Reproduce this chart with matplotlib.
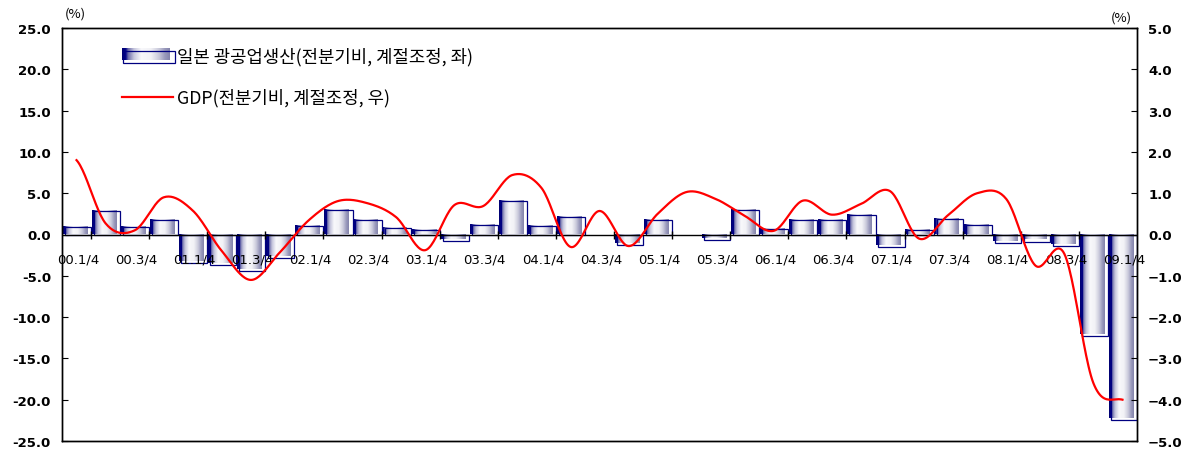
import numpy as np
import matplotlib.pyplot as plt
from matplotlib.colors import LinearSegmentedColormap
from matplotlib.patches import Rectangle

plt.rcParams['font.family'] = ['Noto Sans CJK KR', 'DejaVu Sans']

# --- Data (quarter-on-quarter, seasonally adjusted, %) ---
quarters = [f"{y:02d}.{q}/4" for y in range(0, 10) for q in range(1, 5)][:37]

ip = [0.9, 2.8, 0.9, 1.75, -3.2, -3.4, -4.2, -2.6,
      1.0, 3.0, 1.8, 0.75, 0.5, -0.5, 1.2, 4.0,
      1.0, 2.15, 0.0, -1.0, 1.75, 0.0, -0.45, 3.0,
      0.7, 1.75, 1.75, 2.4, -1.25, 0.55, 1.9, 1.2,
      -0.75, -0.6, -1.2, -12.0, -22.2]

gdp = [1.8, 0.27, 0.1, 0.9, 0.58, -0.4, -1.1, -0.43,
       0.35, 0.81, 0.76, 0.42, -0.38, 0.71, 0.69, 1.44,
       1.13, -0.3, 0.57, -0.28, 0.5, 1.03, 0.86, 0.45,
       0.09, 0.82, 0.48, 0.74, 1.05, -0.1, 0.47, 1.0,
       0.86, -0.75, -0.47, -3.6, -4.0]

ip_label = '일본 광공업생산(전분기비, 계절조정, 좌)'
gdp_label = 'GDP(전분기비, 계절조정, 우)'

left_ticks = np.arange(-25, 25.1, 5)
right_ticks = np.arange(-5, 5.1, 1)


def smooth(y, n=24):
    # Catmull-Rom spline through the points (like Excel's smoothed line)
    y = np.asarray(y, float)
    p = np.concatenate([[y[0]], y, [y[-1]]])
    xs, ys = [], []
    t = np.linspace(0, 1, n, endpoint=False)
    for i in range(len(y) - 1):
        p0, p1, p2, p3 = p[i], p[i + 1], p[i + 2], p[i + 3]
        m1 = (p2 - p0) / 2
        m2 = (p3 - p1) / 2
        h00 = 2 * t**3 - 3 * t**2 + 1
        h10 = t**3 - 2 * t**2 + t
        h01 = -2 * t**3 + 3 * t**2
        h11 = t**3 - t**2
        xs.append(i + t)
        ys.append(h00 * p1 + h10 * m1 + h01 * p2 + h11 * m2)
    xs.append([len(y) - 1])
    ys.append([y[-1]])
    return np.concatenate(xs), np.concatenate(ys)


# --- Gradient for the "cylinder" bars ---
cmap = LinearSegmentedColormap.from_list('bar', [
    (0.00, '#000070'), (0.07, '#000088'), (0.12, '#6a6aa8'),
    (0.24, '#c4c4dc'), (0.40, '#f8f8fb'), (0.60, '#f2f2f6'),
    (0.78, '#c8c8da'), (0.90, '#9a9abc'), (1.00, '#8484ac')])
grad = np.linspace(0, 1, 64)[np.newaxis, :]
navy = '#000080'

fig = plt.figure(figsize=(11.93, 4.52), dpi=100)
ax = fig.add_axes([62 / 1193, 10 / 452, 1075 / 1193, 413 / 452])

x = np.arange(len(quarters))
for i, v in zip(x, ip):
    if v == 0:
        continue
    ax.imshow(grad, cmap=cmap, extent=[i - 0.47, i + 0.38, 0, v],
              aspect='auto', interpolation='bilinear', zorder=2)
    off = -0.25 if v < 0 else 0
    ax.add_patch(Rectangle((i - 0.40, 0), 0.9, v + off, fill=False,
                           edgecolor=navy, lw=0.9, zorder=3))

ax.axhline(0, color='black', lw=1.0, zorder=4)
ax.plot(x[1::2] - 0.5, np.zeros(len(x[1::2])), ls='none', marker='|',
        ms=6, mew=1.0, color='black', zorder=4)

for i in x[::2]:
    ax.annotate(quarters[i], (i, 0), xytext=(1, -13), textcoords='offset points',
                ha='center', va='top', fontsize=9.5, family='DejaVu Sans', zorder=5)

ax.set_xlim(-0.5, len(quarters) - 0.5)
ax.set_ylim(-25, 25)
ax.set_xticks([])
ax.set_yticks(left_ticks)
ax.set_yticklabels([f"{t:.1f}" for t in left_ticks], fontsize=9.5,
                   family='DejaVu Sans', fontweight='bold')
ax.tick_params(axis='y', direction='in', length=4, pad=8)

# --- GDP line on right axis ---
ax2 = ax.twinx()
sx, sy = smooth(gdp)
ax2.plot(sx, sy, color='#ff0000', lw=1.6, zorder=5)
ax2.set_ylim(-5, 5)
ax2.set_yticks(right_ticks)
ax2.set_yticklabels([f"{t:.1f}".replace('-', '\u2212') for t in right_ticks],
                    fontsize=9.5, family='DejaVu Sans', fontweight='bold')
ax2.tick_params(axis='y', direction='in', length=4, pad=8)

for a in (ax, ax2):
    for s in a.spines.values():
        s.set_linewidth(1.0)

# --- Legend (drawn by hand) ---
ax.imshow(grad, cmap=cmap, extent=[0.056, 0.100, 0.922, 0.949],
          transform=ax.transAxes, aspect='auto', interpolation='bilinear', zorder=6)
ax.add_patch(Rectangle((0.057, 0.915), 0.0485, 0.029, fill=False, edgecolor=navy,
                       lw=0.9, transform=ax.transAxes, zorder=6))
ax.text(0.107, 0.932, ip_label, transform=ax.transAxes, fontsize=12.8,
        va='center', ha='left')
ax.plot([0.056, 0.103], [0.832, 0.832], color='#ff0000', lw=1.6,
        transform=ax.transAxes)
ax.text(0.107, 0.832, gdp_label, transform=ax.transAxes, fontsize=12.8,
        va='center', ha='left')

fig.text(75 / 1193, 1 - 14 / 452, '(%)', fontsize=9.5, ha='center', va='center')
fig.text(1121 / 1193, 1 - 18 / 452, '(%)', fontsize=9.5, ha='center', va='center')

fig.savefig('out.png', dpi=100)
